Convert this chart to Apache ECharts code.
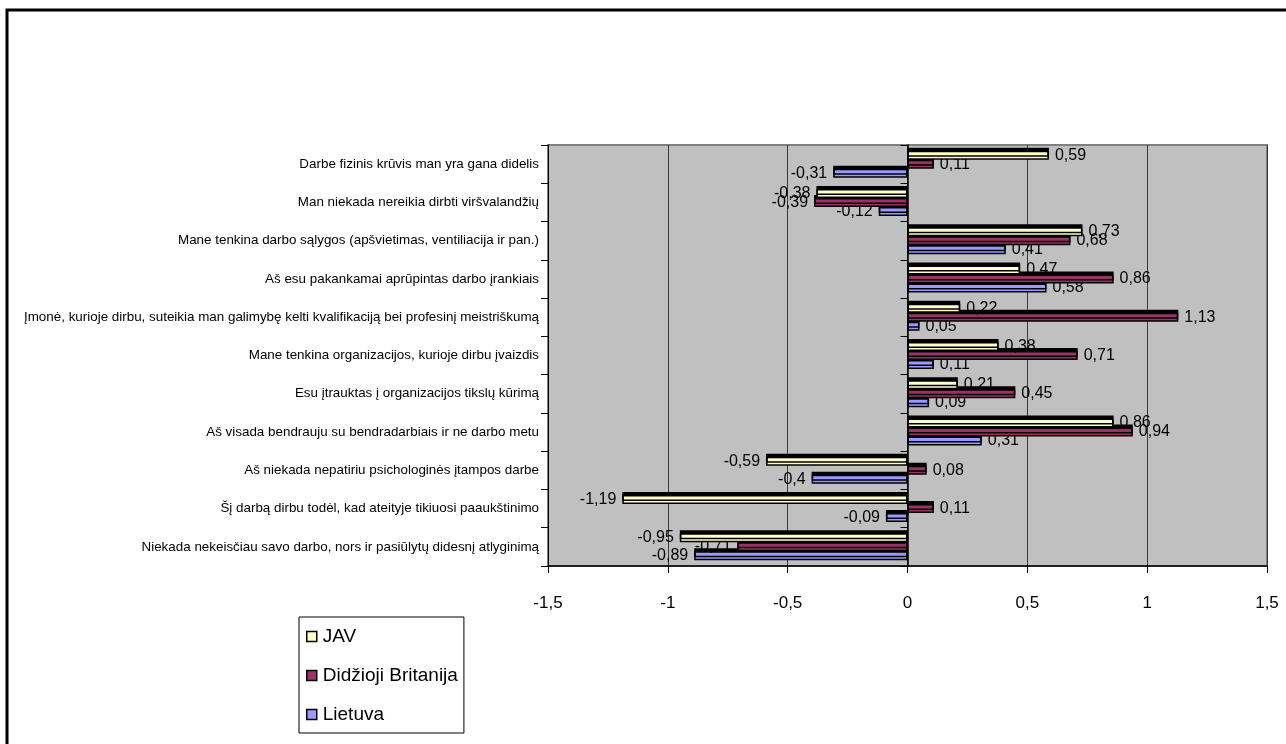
<!DOCTYPE html>
<html>
<head>
<meta charset="utf-8">
<script src="https://cdn.jsdelivr.net/npm/echarts@6/dist/echarts.min.js"></script>
<style>
  html, body { margin: 0; padding: 0; background: #ffffff; }
  #chart { width: 1286px; height: 744px; }
</style>
</head>
<body>
<div id="chart"></div>
<script>
// Survey statements (top to bottom)
const categories = [
  'Darbe fizinis krūvis man yra gana didelis',
  'Man niekada nereikia dirbti viršvalandžių',
  'Mane tenkina darbo sąlygos (apšvietimas, ventiliacija ir pan.)',
  'Aš esu pakankamai aprūpintas darbo įrankiais',
  'Įmonė, kurioje dirbu, suteikia man galimybę kelti kvalifikaciją bei profesinį meistriškumą',
  'Mane tenkina organizacijos, kurioje dirbu įvaizdis',
  'Esu įtrauktas į organizacijos tikslų kūrimą',
  'Aš visada bendrauju su bendradarbiais ir ne darbo metu',
  'Aš niekada nepatiriu psichologinės įtampos darbe',
  'Šį darbą dirbu todėl, kad ateityje tikiuosi paaukštinimo',
  'Niekada nekeisčiau savo darbo, nors ir pasiūlytų didesnį atlyginimą'
];

const seriesNames = ['JAV', 'Didžioji Britanija', 'Lietuva'];

const javValues = [0.59, -0.38, 0.73, 0.47, 0.22, 0.38, 0.21, 0.86, -0.59, -1.19, -0.95];
const britainValues = [0.11, -0.39, 0.68, 0.86, 1.13, 0.71, 0.45, 0.94, 0.08, 0.11, -0.71];
const lithuaniaValues = [-0.31, -0.12, 0.41, 0.58, 0.05, 0.11, 0.09, 0.31, -0.4, -0.09, -0.89];

// Value axis range and step
const axisMin = -1.5;
const axisMax = 1.5;
const axisStep = 0.5;

const colors = ['#FFFFCC', '#993366', '#9999FF'];

const fmt = v => String(v).replace('.', ',');

// Labels sit at the outer end of each bar
function toItems(values) {
  return values.map(v => ({
    value: v,
    label: { position: v < 0 ? 'left' : 'right' }
  }));
}

function makeSeries(name, values, color, z) {
  return {
    name: name,
    type: 'bar',
    yAxisIndex: 0,
    barWidth: 9,
    barGap: '0%',
    z: z,
    data: toItems(values),
    itemStyle: {
      color: color,
      borderColor: '#000000',
      borderWidth: 1.5,
      shadowColor: '#000000',
      shadowBlur: 0,
      shadowOffsetX: 0,
      shadowOffsetY: -3
    },
    label: {
      show: true,
      distance: 6,
      color: '#000000',
      fontFamily: 'Liberation Sans',
      fontSize: 16,
      formatter: p => fmt(p.value)
    }
  };
}

const chart = echarts.init(document.getElementById('chart'), null, { renderer: 'canvas' });

chart.setOption({
  animation: false,
  backgroundColor: '#ffffff',
  color: colors,
  graphic: [{
    type: 'rect',
    shape: { x: 7, y: 10, width: 1300, height: 760 },
    style: { fill: 'none', stroke: '#000000', lineWidth: 3 },
    silent: true
  }],
  grid: {
    left: 548,
    right: 19,
    top: 145,
    bottom: 178,
    show: true,
    backgroundColor: '#C0C0C0',
    borderColor: '#808080',
    borderWidth: 2
  },
  legend: {
    orient: 'vertical',
    left: 299,
    top: 617,
    data: seriesNames,
    itemWidth: 10,
    itemHeight: 10,
    itemGap: 20,
    padding: [10, 6, 9, 7],
    backgroundColor: '#ffffff',
    borderColor: '#000000',
    borderWidth: 1,
    icon: 'rect',
    itemStyle: { borderColor: '#000000', borderWidth: 1.5, shadowBlur: 0, shadowOffsetY: 0, shadowColor: 'transparent' },
    textStyle: { fontFamily: 'Liberation Sans', fontSize: 19, color: '#000000', padding: [0, 0, 0, 1] }
  },
  xAxis: {
    type: 'value',
    min: axisMin,
    max: axisMax,
    interval: axisStep,
    axisLine: { show: true, onZero: false, lineStyle: { color: '#000000', width: 1.5 } },
    axisTick: { show: true, inside: false, length: 7, lineStyle: { color: '#000000' } },
    axisLabel: {
      margin: 29,
      color: '#000000',
      fontFamily: 'Liberation Sans',
      fontSize: 17,
      formatter: v => fmt(v)
    },
    splitLine: { show: true, lineStyle: { color: '#3a3a3a', width: 1 } }
  },
  yAxis: [{
    type: 'category',
    data: categories,
    inverse: true,
    axisLine: { show: true, onZero: false, lineStyle: { color: '#000000', width: 1 } },
    axisTick: { show: true, inside: false, length: 7, lineStyle: { color: '#000000' } },
    axisLabel: {
      margin: 9,
      color: '#000000',
      fontFamily: 'Liberation Sans',
      fontSize: 13.4
    },
    splitLine: { show: false }
  }, {
    type: 'category',
    data: categories,
    inverse: true,
    position: 'left',
    axisLine: { show: true, onZero: true, lineStyle: { color: '#000000', width: 1.5 } },
    axisTick: { show: true, inside: false, length: 7, lineStyle: { color: '#000000' } },
    axisLabel: { show: false },
    splitLine: { show: false }
  }],
  series: [
    makeSeries(seriesNames[0], javValues, colors[0], 4),
    makeSeries(seriesNames[1], britainValues, colors[1], 3),
    makeSeries(seriesNames[2], lithuaniaValues, colors[2], 2)
  ]
});
</script>
</body>
</html>
